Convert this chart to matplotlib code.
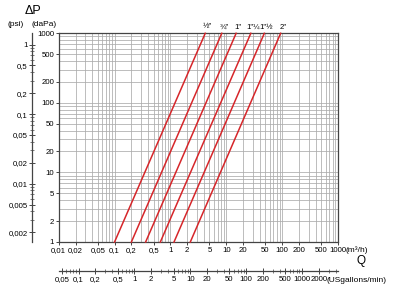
import matplotlib
matplotlib.use('Agg')
import matplotlib.pyplot as plt
from matplotlib.ticker import LogLocator, NullFormatter, NullLocator

plt.rcParams['font.family'] = ['Liberation Sans', 'DejaVu Sans']

# ---- data ----
pipe_labels = ['½"', '¾"', '1"', '1"¼', '1"½', '2"']
q_at_dp_min = [0.10, 0.20, 0.36, 0.66, 1.16, 2.27]   # m3/h at 1 daPa
q_at_dp_max = [4.2, 8.3, 15.0, 27.5, 48.0, 94.0]     # m3/h at 1000 daPa
dp_range = [1, 1000]

q_ticks = [0.01, 0.02, 0.05, 0.1, 0.2, 0.5, 1, 2, 5, 10, 20, 50, 100, 200, 500, 1000]
q_labels = ['0,01', '0,02', '0,05', '0,1', '0,2', '0,5', '1', '2', '5', '10', '20',
            '50', '100', '200', '500', '1000']
dp_ticks = [1, 2, 5, 10, 20, 50, 100, 200, 500, 1000]
dp_labels = ['1', '2', '5', '10', '20', '50', '100', '200', '500', '1000']
psi_ticks = [0.002, 0.005, 0.01, 0.02, 0.05, 0.1, 0.2, 0.5, 1]
psi_labels = ['0,002', '0,005', '0,01', '0,02', '0,05', '0,1', '0,2', '0,5', '1']
gpm_ticks = [0.05, 0.1, 0.2, 0.5, 1, 2, 5, 10, 20, 50, 100, 200, 500, 1000, 2000]
gpm_labels = ['0,05', '0,1', '0,2', '0,5', '1', '2', '5', '10', '20', '50', '100',
              '200', '500', '1000', '2000']
DAPA_PER_PSI = 689.476
GPM_PER_M3H = 4.40287

NARROW = ['Liberation Sans Narrow', 'Liberation Sans', 'DejaVu Sans']
FS = 5.6      # tick numbers (narrow)
FT = 6.0      # unit texts
W, H = 400, 289
fig = plt.figure(figsize=(W / 100, H / 100), dpi=100)


def narrow(labels):
    for t in labels:
        t.set_family(NARROW)
        t.set_fontsize(FS)


L, R, T, B = 58.7, 338.0, 33.3, 242.0
ax = fig.add_axes([L / W, 1 - B / H, (R - L) / W, (B - T) / H])
ax.set_xscale('log')
ax.set_yscale('log')
ax.set_xlim(0.01, 1000)
ax.set_ylim(1, 1000)
ax.xaxis.set_minor_locator(LogLocator(subs=range(2, 10)))
ax.yaxis.set_minor_locator(LogLocator(subs=range(2, 10)))
ax.xaxis.set_minor_formatter(NullFormatter())
ax.yaxis.set_minor_formatter(NullFormatter())
ax.set_xticks(q_ticks, q_labels)
ax.set_yticks(dp_ticks, dp_labels)
narrow(ax.get_xticklabels())
narrow(ax.get_yticklabels())
ax.grid(which='both', color='#ababab', lw=0.55)
ax.set_axisbelow(True)
ax.tick_params(which='major', length=2.5, width=0.7, pad=0.8, color='#444444')
ax.tick_params(which='minor', length=0)
for s in ax.spines.values():
    s.set_color('#444444')
    s.set_linewidth(0.9)

for q0, q1, lab in zip(q_at_dp_min, q_at_dp_max, pipe_labels):
    ax.plot([q0, q1], dp_range, color='#d6262a', lw=1.1, clip_on=False, zorder=3)
    ax.annotate(lab, xy=(q1, dp_range[1]), xytext=(1.5, 2.0), textcoords='offset points',
                ha='center', va='bottom', fontsize=FS, family=NARROW)

ax.annotate('(m³/h)', xy=(1, 0), xycoords='axes fraction', xytext=(5.6, -3.0),
            textcoords='offset points', ha='left', va='top', fontsize=FT)

# psi axis
xp = 31.7
axp = fig.add_axes([xp / W, 1 - B / H, 1e-4, (B - T) / H])
axp.set_yscale('log')
axp.set_ylim(dp_range[0] / DAPA_PER_PSI, dp_range[1] / DAPA_PER_PSI)
axp.patch.set_visible(False)
for k in ['top', 'bottom', 'right']:
    axp.spines[k].set_visible(False)
axp.spines['left'].set_color('#444444')
axp.spines['left'].set_linewidth(0.9)
axp.set_yticks(psi_ticks, psi_labels)
narrow(axp.get_yticklabels())
axp.yaxis.set_minor_locator(LogLocator(subs=range(2, 10)))
axp.yaxis.set_minor_formatter(NullFormatter())
axp.xaxis.set_major_locator(NullLocator())
axp.xaxis.set_minor_locator(NullLocator())
axp.tick_params(axis='y', which='major', direction='inout', length=5, width=0.7,
                pad=0.3, color='#444444')
axp.tick_params(axis='y', which='minor', direction='inout', length=3, width=0.5,
                color='#444444')

# US gallons/min axis
yg = 271.0
axg = fig.add_axes([L / W, 1 - yg / H, (R - L) / W, 1e-4])
axg.set_xscale('log')
axg.set_xlim(0.01 * GPM_PER_M3H, 1000 * GPM_PER_M3H)
axg.patch.set_visible(False)
for k in ['top', 'left', 'right']:
    axg.spines[k].set_visible(False)
axg.spines['bottom'].set_color('#444444')
axg.spines['bottom'].set_linewidth(0.9)
axg.set_xticks(gpm_ticks, gpm_labels)
narrow(axg.get_xticklabels())
axg.xaxis.set_minor_locator(LogLocator(subs=range(2, 10)))
axg.xaxis.set_minor_formatter(NullFormatter())
axg.yaxis.set_major_locator(NullLocator())
axg.yaxis.set_minor_locator(NullLocator())
axg.tick_params(axis='x', which='major', direction='inout', length=5, width=0.7,
                pad=1.0, color='#444444')
axg.tick_params(axis='x', which='minor', direction='inout', length=3, width=0.5,
                color='#444444')
axg.annotate('(USgallons/min)', xy=(2000, 0), xycoords=('data', 'axes fraction'),
             xytext=(5.8, -4.0), textcoords='offset points', ha='left', va='top',
             fontsize=FT)

fig.text(361 / W, 1 - 261 / H, 'Q', fontsize=8.5, ha='center', va='center')
fig.text(33 / W, 1 - 11.5 / H, 'ΔP', fontsize=9, ha='center', va='center')
fig.text(16 / W, 1 - 24 / H, '(psi)', fontsize=FT, ha='center', va='center')
fig.text(44 / W, 1 - 24 / H, '(daPa)', fontsize=FT, ha='center', va='center')

fig.savefig('out.png', dpi=100)
